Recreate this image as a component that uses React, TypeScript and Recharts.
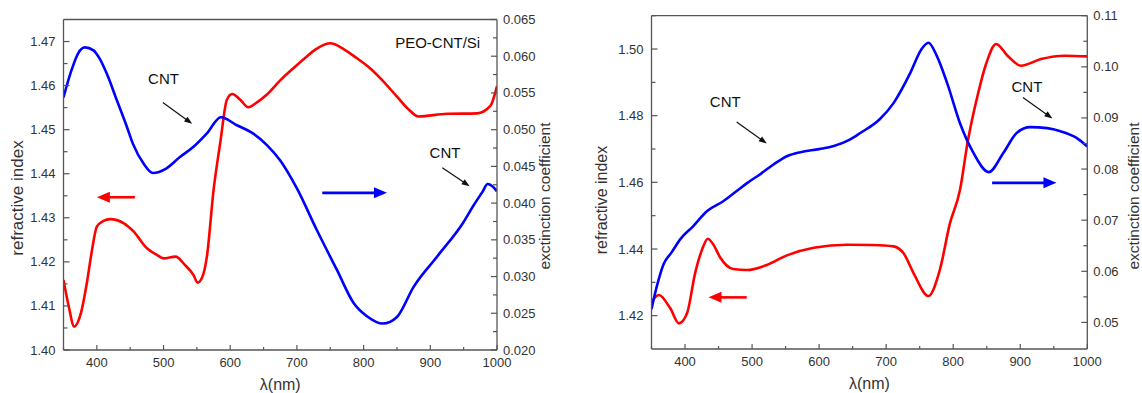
import React from 'react';
import { LineChart, Line, XAxis, YAxis, ReferenceLine, ReferenceDot } from 'recharts';

const FONT = '"Liberation Sans", Arial, Helvetica, sans-serif';
const AXIS_COLOR = '#555';
const TEXT_COLOR = '#333';
const INK = '#111';
const RED = '#ff0000';
const BLUE = '#0000ff';

// wavelength axis (shared by both panels)
const lambdaTicks = [350, 400, 450, 500, 550, 600, 650, 700, 750, 800, 850, 900, 950, 1000];
const lambdaLabels = [400, 500, 600, 700, 800, 900, 1000];

// ---- panel A : PEO-CNT/Si ----
const aRedLambda = [350, 358, 366, 376, 385, 392, 400, 410, 420, 440, 455, 475, 490, 500, 518, 532, 545, 551, 558, 565, 575, 585, 595, 603, 615, 627, 640, 655, 675, 695, 710, 730, 750, 770, 790, 810, 825, 850, 868, 882, 925, 970, 990, 1000];
const aRedIndex = [1.4159, 1.4098, 1.4053, 1.4083, 1.4152, 1.422, 1.428, 1.4293, 1.4297, 1.4288, 1.4269, 1.4231, 1.4216, 1.4208, 1.4212, 1.4193, 1.417, 1.4153, 1.4165, 1.4212, 1.4363, 1.447, 1.4568, 1.4581, 1.4568, 1.4551, 1.4562, 1.458, 1.4612, 1.464, 1.466, 1.4684, 1.4696, 1.4683, 1.4662, 1.4639, 1.4617, 1.4575, 1.4545, 1.453, 1.4536, 1.4537, 1.4554, 1.4599];
const aBlueLambda = [350, 362, 372, 382, 395, 404, 415, 430, 445, 454, 470, 484, 504, 525, 544, 565, 586, 610, 634, 655, 675, 700, 730, 760, 785, 805, 829, 850, 875, 910, 949, 965, 978, 986, 993, 1000];
const aBlueExt = [0.0544, 0.0581, 0.0604, 0.0612, 0.0608, 0.0597, 0.0576, 0.054, 0.0504, 0.0481, 0.0454, 0.0441, 0.0447, 0.0463, 0.0476, 0.0495, 0.0517, 0.0506, 0.0495, 0.0479, 0.0458, 0.042, 0.0363, 0.0309, 0.0264, 0.0246, 0.0236, 0.0245, 0.0286, 0.0327, 0.0373, 0.0397, 0.0415, 0.0426, 0.0423, 0.0416];
const aIndexTicks = [1.4, 1.405, 1.41, 1.415, 1.42, 1.425, 1.43, 1.435, 1.44, 1.445, 1.45, 1.455, 1.46, 1.465, 1.47];
const aIndexLabels = [1.4, 1.41, 1.42, 1.43, 1.44, 1.45, 1.46, 1.47];
const aExtTicks = [0.02, 0.0225, 0.025, 0.0275, 0.03, 0.0325, 0.035, 0.0375, 0.04, 0.0425, 0.045, 0.0475, 0.05, 0.0525, 0.055, 0.0575, 0.06, 0.0625, 0.065];
const aExtLabels = [0.02, 0.025, 0.03, 0.035, 0.04, 0.045, 0.05, 0.055, 0.06, 0.065];

// ---- panel B ----
const bRedLambda = [350, 361, 378, 391, 403, 415, 425, 434, 443, 452, 472, 492, 522, 552, 592, 642, 680, 711, 726, 741, 763, 780, 795, 810, 822, 837, 849, 864, 881, 901, 931, 966, 1000];
const bRedIndex = [1.4242, 1.4262, 1.4222, 1.4177, 1.4207, 1.4327, 1.4396, 1.4431, 1.4411, 1.4376, 1.434, 1.4337, 1.4352, 1.4381, 1.4404, 1.4413, 1.4412, 1.4408, 1.4387, 1.4327, 1.4259, 1.4337, 1.4476, 1.4576, 1.4726, 1.4866, 1.4955, 1.5015, 1.498, 1.495, 1.497, 1.498, 1.4978];
const bBlueLambda = [350, 358, 368, 380, 393, 412, 433, 457, 477, 492, 510, 532, 552, 572, 600, 622, 645, 662, 690, 711, 736, 752, 763, 775, 791, 810, 830, 853, 875, 895, 915, 940, 960, 984, 1000];
const bBlueExt = [0.0526, 0.0571, 0.0614, 0.0637, 0.0663, 0.0688, 0.0718, 0.0737, 0.0757, 0.0772, 0.0788, 0.0809, 0.0825, 0.0833, 0.0839, 0.0845, 0.0857, 0.0871, 0.0897, 0.0929, 0.0988, 0.1033, 0.1047, 0.1023, 0.0968, 0.089, 0.0832, 0.0794, 0.0832, 0.0871, 0.0882, 0.088, 0.0874, 0.0861, 0.0844];
const bIndexTicks = [1.42, 1.43, 1.44, 1.45, 1.46, 1.47, 1.48, 1.49, 1.5, 1.51];
const bIndexLabels = [1.42, 1.44, 1.46, 1.48, 1.5];
const bExtTicks = [0.05, 0.055, 0.06, 0.065, 0.07, 0.075, 0.08, 0.085, 0.09, 0.095, 0.1, 0.105, 0.11];
const bExtLabels = [0.05, 0.06, 0.07, 0.08, 0.09, 0.1, 0.11];

const toPoints = (xs: number[], ys: number[]) => xs.map((x, i) => ({ x, y: ys[i] }));

const TICK_GAP = 7;
const isLabel = (v: number, labels: number[]) => labels.some((l) => Math.abs(l - v) < 1e-7);

// inward-pointing ticks: major ticks longer and labelled
const bottomTick = (labels: number[]) => (p: any) => {
  const v = p.payload.value;
  const major = isLabel(v, labels);
  const axisY = p.y - TICK_GAP;
  return (
    <g>
      <line x1={p.x} x2={p.x} y1={axisY} y2={axisY - (major ? 5 : 3)} stroke={AXIS_COLOR} strokeWidth={1.2} />
      {major && (
        <text x={p.x} y={axisY + 17} textAnchor="middle" fontSize={13} fill={TEXT_COLOR} fontFamily={FONT}>
          {String(v)}
        </text>
      )}
    </g>
  );
};

const leftTick = (labels: number[], digits: number) => (p: any) => {
  const v = p.payload.value;
  const major = isLabel(v, labels);
  const axisX = p.x + TICK_GAP;
  return (
    <g>
      <line x1={axisX} x2={axisX + (major ? 6 : 4)} y1={p.y} y2={p.y} stroke={AXIS_COLOR} strokeWidth={1.2} />
      {major && (
        <text x={axisX - 8} y={p.y + 4.5} textAnchor="end" fontSize={13} fill={TEXT_COLOR} fontFamily={FONT}>
          {v.toFixed(digits)}
        </text>
      )}
    </g>
  );
};

const rightTick = (labels: number[], digits: number) => (p: any) => {
  const v = p.payload.value;
  const major = isLabel(v, labels);
  const axisX = p.x - TICK_GAP;
  return (
    <g>
      <line x1={axisX} x2={axisX - (major ? 6 : 4)} y1={p.y} y2={p.y} stroke={AXIS_COLOR} strokeWidth={1.2} />
      {major && (
        <text x={axisX + 6} y={p.y + 4.5} textAnchor="start" fontSize={13} fill={TEXT_COLOR} fontFamily={FONT}>
          {v.toFixed(digits)}
        </text>
      )}
    </g>
  );
};

// axis titles drawn from the axis view box
const xTitle = (p: any) => {
  const vb = p.viewBox || { x: 0, y: 0, width: 0 };
  return (
    <text x={vb.x + vb.width / 2} y={vb.y + 40} textAnchor="middle" fontSize={16} fill={TEXT_COLOR} fontFamily={FONT}>
      λ(nm)
    </text>
  );
};

const yTitle = (text: string, dx: number, cy: number, size: number) => (p: any) => {
  const vb = p.viewBox || { x: 0, y: 0, width: 0, height: 0 };
  const cx = vb.x + dx;
  return (
    <text
      x={cx}
      y={cy}
      transform={`rotate(-90, ${cx}, ${cy})`}
      textAnchor="middle"
      dominantBaseline="central"
      fontSize={size}
      fill={TEXT_COLOR}
      fontFamily={FONT}
    >
      {text}
    </text>
  );
};

// straight arrow with a filled head at the second end point
const arrow = (color: string, width: number, headLen: number, headHalf: number) => (p: any) => {
  const { x1, y1, x2, y2 } = p;
  const dx = x2 - x1;
  const dy = y2 - y1;
  const len = Math.hypot(dx, dy) || 1;
  const ux = dx / len;
  const uy = dy / len;
  const bx = x2 - ux * headLen;
  const by = y2 - uy * headLen;
  const nx = -uy * headHalf;
  const ny = ux * headHalf;
  return (
    <g>
      <line x1={x1} y1={y1} x2={bx + ux} y2={by + uy} stroke={color} strokeWidth={width} />
      <polygon points={`${x2},${y2} ${bx + nx},${by + ny} ${bx - nx},${by - ny}`} fill={color} />
    </g>
  );
};

const pointer = arrow(INK, 1.2, 8, 3);
const redArrow = arrow(RED, 2.6, 13, 5.5);
const blueArrow = arrow(BLUE, 2.6, 13, 5.5);

const note = (value: string) => ({ value, position: 'center' as const, fill: INK, fontSize: 15, fontFamily: FONT });

const axisLine = { stroke: AXIS_COLOR, strokeWidth: 1.3 };

function PanelA() {
  return (
    <LineChart width={570} height={393} margin={{ top: 19.5, right: 23, bottom: 13, left: 13.5 }}>
      <XAxis
        type="number"
        dataKey="x"
        domain={[350, 1000]}
        ticks={lambdaTicks}
        interval={0}
        allowDataOverflow
        tickSize={0}
        tickMargin={TICK_GAP}
        tickLine={false}
        axisLine={axisLine}
        tick={bottomTick(lambdaLabels)}
        height={30}
        label={xTitle}
      />
      <YAxis
        yAxisId="n"
        orientation="left"
        type="number"
        domain={[1.4, 1.475]}
        ticks={aIndexTicks}
        interval={0}
        allowDataOverflow
        width={50}
        tickSize={0}
        tickMargin={TICK_GAP}
        tickLine={false}
        axisLine={axisLine}
        tick={leftTick(aIndexLabels, 2)}
        label={yTitle('refractive index', 4, 198, 17)}
      />
      <YAxis
        yAxisId="k"
        orientation="right"
        type="number"
        domain={[0.02, 0.065]}
        ticks={aExtTicks}
        interval={0}
        allowDataOverflow
        width={50}
        tickSize={0}
        tickMargin={TICK_GAP}
        tickLine={false}
        axisLine={axisLine}
        tick={rightTick(aExtLabels, 3)}
        label={yTitle('exctinction coefficient', 47.5, 196, 15.5)}
      />
      <ReferenceLine yAxisId="n" y={1.475} stroke={AXIS_COLOR} strokeWidth={1.3} />
      <Line yAxisId="n" data={toPoints(aRedLambda, aRedIndex)} dataKey="y" type="monotone" stroke={RED} strokeWidth={2.6} dot={false} isAnimationActive={false} />
      <Line yAxisId="k" data={toPoints(aBlueLambda, aBlueExt)} dataKey="y" type="monotone" stroke={BLUE} strokeWidth={2.6} dot={false} isAnimationActive={false} />
      <ReferenceDot yAxisId="k" x={500} y={0.057} r={0} fill="none" stroke="none" label={note('CNT')} />
      <ReferenceLine yAxisId="k" segment={[{ x: 499, y: 0.0537 }, { x: 543, y: 0.0508 }]} shape={pointer} />
      <ReferenceDot yAxisId="k" x={911} y={0.0619} r={0} fill="none" stroke="none" label={note('PEO-CNT/Si')} />
      <ReferenceDot yAxisId="k" x={922} y={0.0469} r={0} fill="none" stroke="none" label={note('CNT')} />
      <ReferenceLine yAxisId="k" segment={[{ x: 918, y: 0.0448 }, { x: 959, y: 0.0423 }]} shape={pointer} />
      <ReferenceLine yAxisId="k" segment={[{ x: 457, y: 0.0408 }, { x: 400, y: 0.0408 }]} shape={redArrow} />
      <ReferenceLine yAxisId="k" segment={[{ x: 738, y: 0.0414 }, { x: 835, y: 0.0414 }]} shape={blueArrow} />
    </LineChart>
  );
}

function PanelB() {
  return (
    <LineChart width={572} height={393} margin={{ top: 15.7, right: 4.7, bottom: 14, left: 31.5 }}>
      <XAxis
        type="number"
        dataKey="x"
        domain={[350, 1000]}
        ticks={lambdaTicks}
        interval={0}
        allowDataOverflow
        tickSize={0}
        tickMargin={TICK_GAP}
        tickLine={false}
        axisLine={axisLine}
        tick={bottomTick(lambdaLabels)}
        height={30}
        label={xTitle}
      />
      <YAxis
        yAxisId="n"
        orientation="left"
        type="number"
        domain={[1.41, 1.51]}
        ticks={bIndexTicks}
        interval={0}
        allowDataOverflow
        width={50}
        tickSize={0}
        tickMargin={TICK_GAP}
        tickLine={false}
        axisLine={axisLine}
        tick={leftTick(bIndexLabels, 2)}
        label={yTitle('refractive index', -0.5, 200, 16)}
      />
      <YAxis
        yAxisId="k"
        orientation="right"
        type="number"
        domain={[0.0448, 0.11]}
        ticks={bExtTicks}
        interval={0}
        allowDataOverflow
        width={50}
        tickSize={0}
        tickMargin={TICK_GAP}
        tickLine={false}
        axisLine={axisLine}
        tick={rightTick(bExtLabels, 2)}
        label={yTitle('exctinction coefficient', 45.7, 196, 15.5)}
      />
      <ReferenceLine yAxisId="n" y={1.51} stroke={AXIS_COLOR} strokeWidth={1.3} />
      <Line yAxisId="n" data={toPoints(bRedLambda, bRedIndex)} dataKey="y" type="monotone" stroke={RED} strokeWidth={2.6} dot={false} isAnimationActive={false} />
      <Line yAxisId="k" data={toPoints(bBlueLambda, bBlueExt)} dataKey="y" type="monotone" stroke={BLUE} strokeWidth={2.6} dot={false} isAnimationActive={false} />
      <ReferenceDot yAxisId="k" x={460} y={0.0932} r={0} fill="none" stroke="none" label={note('CNT')} />
      <ReferenceLine yAxisId="k" segment={[{ x: 477, y: 0.0892 }, { x: 522, y: 0.085 }]} shape={pointer} />
      <ReferenceDot yAxisId="k" x={910} y={0.0961} r={0} fill="none" stroke="none" label={note('CNT')} />
      <ReferenceLine yAxisId="k" segment={[{ x: 904, y: 0.094 }, { x: 948, y: 0.0899 }]} shape={pointer} />
      <ReferenceLine yAxisId="k" segment={[{ x: 492, y: 0.0549 }, { x: 435, y: 0.0549 }]} shape={redArrow} />
      <ReferenceLine yAxisId="k" segment={[{ x: 858, y: 0.0773 }, { x: 954, y: 0.0773 }]} shape={blueArrow} />
    </LineChart>
  );
}

export default function App() {
  return (
    <div style={{ position: 'absolute', left: 0, top: 0, width: 1142, height: 393, background: '#fff', fontFamily: FONT }}>
      <div style={{ position: 'absolute', left: 0, top: 0 }}>
        <PanelA />
      </div>
      <div style={{ position: 'absolute', left: 570, top: 0 }}>
        <PanelB />
      </div>
    </div>
  );
}
